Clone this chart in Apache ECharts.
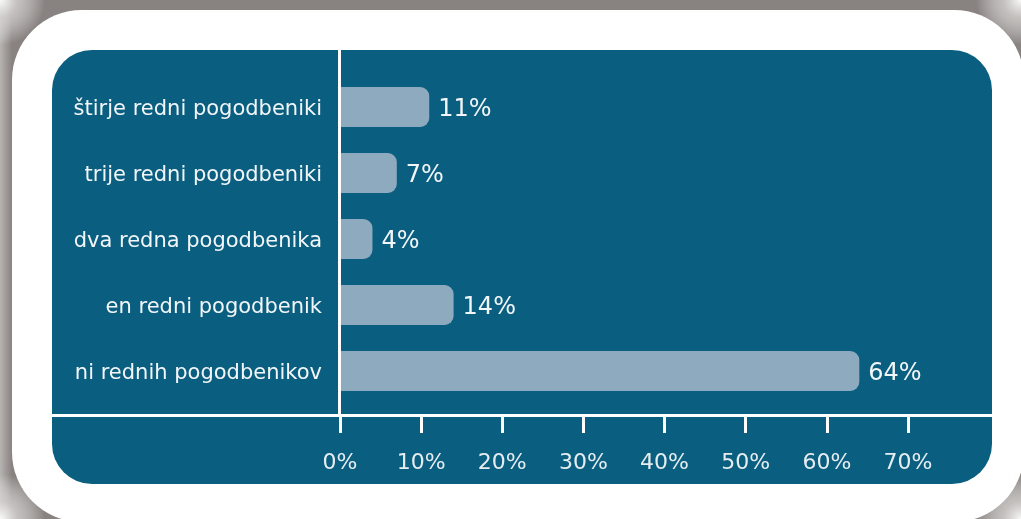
<!DOCTYPE html>
<html>
<head>
<meta charset="utf-8">
<script src="https://cdn.jsdelivr.net/npm/echarts@6/dist/echarts.min.js"></script>
<style>
  html, body { margin: 0; padding: 0; background: #ffffff; }
  #chart { width: 1021px; height: 519px; }
</style>
</head>
<body>
<div id="chart"></div>
<script>
// categories from top to bottom
let categories = ['štirje redni pogodbeniki', 'trije redni pogodbeniki', 'dva redna pogodbenika', 'en redni pogodbenik', 'ni rednih pogodbenikov'];
let values = [11, 7, 4, 14, 64];
let tickValues = [0, 10, 20, 30, 40, 50, 60, 70];

let panelColor = '#0a5e80';
let barColor = '#8eaabe';

// soft corners of the grey shadow
let corner = function (cx, cy) {
    return {
        type: 'circle',
        shape: {cx: cx, cy: cy, r: 45},
        z: -9,
        style: {
            fill: {
                type: 'radial', x: 0.5, y: 0.5, r: 0.5,
                colorStops: [
                    {offset: 0, color: 'rgba(250,250,250,1)'},
                    {offset: 0.4, color: 'rgba(220,218,216,0.7)'},
                    {offset: 1, color: 'rgba(255,255,255,0)'}
                ]
            }
        }
    };
};

let chart = echarts.init(document.getElementById('chart'));

let option = {
    animation: false,
    grid: {left: 340, right: 113, top: 74, bottom: 115, containLabel: false},
    xAxis: {
        type: 'value',
        min: 0,
        max: 70,
        interval: 10,
        offset: 11,
        splitLine: {show: false},
        axisLine: {show: false},
        axisTick: {show: true, length: 18, lineStyle: {color: '#ffffff', width: 3}},
        axisLabel: {
            margin: 37,
            fontFamily: 'DejaVu Sans',
            fontSize: 22,
            color: '#e6edf1',
            formatter: function (v) {
                return tickValues.indexOf(v) >= 0 ? v + '%' : '';
            }
        }
    },
    yAxis: {
        type: 'category',
        inverse: true,
        data: categories,
        axisLine: {show: false},
        axisTick: {show: false},
        axisLabel: {
            margin: 18,
            formatter: '{a|{value}}',
            rich: {
                a: {
                    padding: [6, 0, 0, 0],
                    fontFamily: 'DejaVu Sans',
                    fontSize: 21,
                    color: '#f2f6f8'
                }
            }
        }
    },
    series: [{
        type: 'bar',
        data: values,
        barWidth: 40,
        itemStyle: {color: barColor, borderRadius: [0, 9, 9, 0]},
        label: {
            show: true,
            position: 'right',
            distance: 9,
            offset: [0, 3],
            formatter: '{c}%',
            fontFamily: 'DejaVu Sans',
            fontSize: 24,
            color: '#f2f6f8'
        }
    }],
    graphic: [
        {type: 'rect', shape: {x: 0, y: 0, width: 1021, height: 519}, z: -10, style: {fill: '#888280'}},
        {
            type: 'rect', shape: {x: 0, y: 0, width: 12, height: 519}, z: -9,
            style: {fill: {type: 'linear', x: 0, y: 0, x2: 1, y2: 0, colorStops: [
                {offset: 0, color: 'rgba(215,213,211,0.6)'},
                {offset: 1, color: 'rgba(215,213,211,0)'}
            ]}}
        },
        corner(0, 0), corner(1021, 0), corner(0, 519), corner(1021, 519),
        {type: 'rect', shape: {x: 12, y: 10, width: 1012, height: 512, r: 70}, z: -8, style: {fill: '#ffffff'}},
        {type: 'rect', shape: {x: 52, y: 50, width: 940, height: 434, r: 40}, z: -7, style: {fill: panelColor}},
        // axis lines
        {type: 'line', shape: {x1: 52, y1: 415.5, x2: 992, y2: 415.5}, z: 10, style: {stroke: '#ffffff', lineWidth: 3}},
        {type: 'line', shape: {x1: 339.5, y1: 50, x2: 339.5, y2: 416}, z: 10, style: {stroke: '#ffffff', lineWidth: 3}}
    ]
};

chart.setOption(option);
</script>
</body>
</html>
